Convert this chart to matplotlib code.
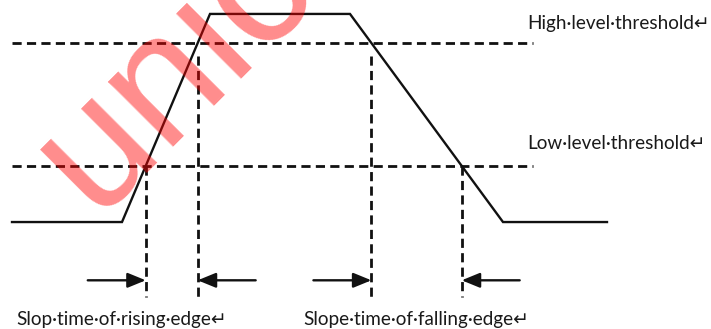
import numpy as np
import matplotlib
matplotlib.use('Agg')
import matplotlib.pyplot as plt

# waveform corners (time, level)
wave_t = [12, 122, 210, 350, 503, 607]
wave_v = [0.0, 0.0, 1.0, 1.0, 0.0, 0.0]

# threshold levels
high_thr = 0.86
low_thr = 0.27
thr_x0, thr_x1 = 12, 533

threshold_labels = ["High·level·threshold↵", "Low·level·threshold↵"]
edge_labels = ["Slop·time·of·rising·edge↵", "Slope·time·of·falling·edge↵"]
watermark = "unicore"

fig = plt.figure(figsize=(7.11, 3.29), dpi=100)
ax = fig.add_axes([0, 0, 1, 1])
ax.set_xlim(0, 711)
ax.set_ylim(-0.514, 1.067)
ax.axis('off')

ink = '#111111'
dash = (3.3, 1.9)

ax.plot(wave_t, wave_v, color=ink, lw=1.7, solid_joinstyle='miter')

for lvl in (high_thr, low_thr):
    ax.plot([thr_x0, thr_x1], [lvl, lvl], color=ink, lw=2.0, dashes=dash)

# crossing times of the two edges
rise_t = np.interp([low_thr, high_thr], wave_v[1:3], wave_t[1:3])
fall_t = np.interp([low_thr, high_thr], wave_v[3:5][::-1], wave_t[3:5][::-1])

vbot = -0.36
ax.plot([rise_t[0], rise_t[0]], [low_thr, vbot], color=ink, lw=2.0, dashes=dash)
ax.plot([rise_t[1], rise_t[1]], [0.80, vbot], color=ink, lw=2.0, dashes=dash)
ax.plot([fall_t[1], fall_t[1]], [0.80, vbot], color=ink, lw=2.0, dashes=dash)
ax.plot([fall_t[0], fall_t[0]], [low_thr, vbot], color=ink, lw=2.0, dashes=dash)

# measurement arrows
arr_y = -0.28
arr_len = 58
arrows = [(rise_t[0], -1), (rise_t[1], 1), (fall_t[1], -1), (fall_t[0], 1)]
for x, side in arrows:
    ax.annotate('', xy=(x, arr_y), xytext=(x + side * arr_len, arr_y),
                arrowprops=dict(arrowstyle='-|>,head_length=1.1,head_width=0.45',
                                color=ink, lw=1.7, shrinkA=0, shrinkB=0))

fam = ['Lato', 'DejaVu Sans']
fs = 13.6
txt = '#1a1a1a'
ax.text(527, 0.928, threshold_labels[0], fontsize=fs, family=fam, color=txt, va='baseline')
ax.text(527, 0.351, threshold_labels[1], fontsize=fs, family=fam, color=txt, va='baseline')
ax.text(16, -0.495, edge_labels[0], fontsize=fs, family=fam, color=txt, va='baseline')
ax.text(303, -0.495, edge_labels[1], fontsize=fs, family=fam, color=txt, va='baseline')

ax.text(94, 0.035, watermark, fontsize=125, family='Liberation Sans', color='red', alpha=0.45,
        rotation=45, rotation_mode='anchor', ha='left', va='baseline', zorder=5)

fig.savefig('out.png', dpi=100)
